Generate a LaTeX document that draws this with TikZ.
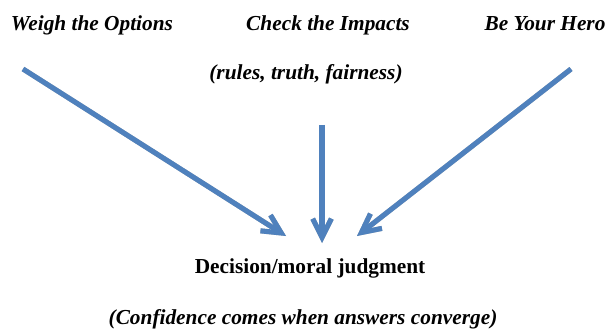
\documentclass[tikz,border=0pt]{standalone}
\usepackage{fontspec}
\newfontfamily\timesfont{Liberation Serif}
\usetikzlibrary{arrows.meta}
\definecolor{arrowblue}{RGB}{79,129,189}

\begin{document}
\begin{tikzpicture}%
	[x=0.75pt, y=-0.75pt,
	caption/.style={font=\timesfont\bfseries\itshape\fontsize{16}{19}\selectfont, inner sep=0pt, anchor=base},
	result/.style={font=\timesfont\bfseries\fontsize{16}{19}\selectfont, inner sep=0pt, anchor=base},
	flow/.style={draw=arrowblue, line width=3.8pt,
		-{Straight Barb[length=14pt, width=14pt, line width=3.8pt]}},
	shade/.style={draw=black!30, line width=3.8pt,
		-{Straight Barb[length=14pt, width=14pt, line width=3.8pt]}}]
%
\useasboundingbox (0,0) rectangle (605,331);
%%
%% Texts
%%
\node[caption] (weigh) at (92,31) {Weigh the Options};
\node[caption] (impacts) at (328,31) {Check the Impacts};
\node[caption] (hero) at (545,31) {Be Your Hero};
\node[caption] (rules) at (306,80) {(rules, truth, fairness)};
\node[result] (decision) at (310,273) {Decision/moral judgment};
\node[caption] (confidence) at (303,324) {(Confidence comes when answers converge)};
%%
%% Arrow ends
%%
\coordinate (weighstart) at (23,69);
\coordinate (weighend) at (286,236);
\coordinate (rulesstart) at (322,125);
\coordinate (rulesend) at (322,243);
\coordinate (herostart) at (571,69);
\coordinate (heroend) at (357,236);
%%
%% Shadows first, then the arrows
%%
\begin{scope}[shift={(-0.5,2.5)}]
\draw[shade] (weighstart) -- (weighend);
\draw[shade] (rulesstart) -- (rulesend);
\draw[shade] (herostart) -- (heroend);
\end{scope}
\draw[flow] (weighstart) -- (weighend);
\draw[flow] (rulesstart) -- (rulesend);
\draw[flow] (herostart) -- (heroend);

\end{tikzpicture}
\end{document}
